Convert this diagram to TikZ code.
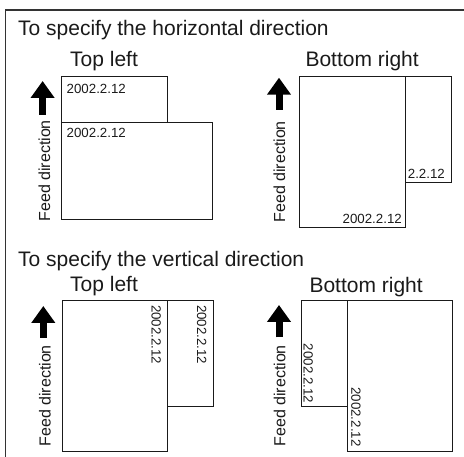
\documentclass[tikz,border=0pt]{standalone}
\usepackage{fontspec}
\setmainfont{Liberation Sans}
\usetikzlibrary{arrows.meta}
\definecolor{ink}{HTML}{1A1A1A}
\definecolor{framec}{HTML}{333333}
\begin{document}
\begin{tikzpicture}[x=1pt,y=1pt,
  heading/.style={inner sep=0pt,anchor=base west,text=ink,font=\fontsize{21}{25}\selectfont},
  datelbl/.style={inner sep=0pt,text=ink,font=\fontsize{13.3}{15}\selectfont},
  feedlbl/.style={inner sep=0pt,anchor=base west,rotate=90,text=ink,font=\fontsize{16}{19}\selectfont},
  sheet/.style={draw=ink,line width=0.9pt},
  feedarrow/.style={draw=black,line width=7pt,-{Triangle[width=23pt,length=17pt]}}]
\useasboundingbox (0,0) rectangle (464,-457);
% frame (top and left only)
\draw[framec,line width=1.3pt] (5.7,-457) -- (5.7,-10) -- (464,-10);

% ===== horizontal direction =====
\node[heading] (t1) at (18,-35.3) {To specify the horizontal direction};
\node[heading] (h1) at (70,-67) {Top left};
\node[heading] (h2) at (305.3,-67) {Bottom right};

% top left
\draw[sheet] (61.5,-76.7) rectangle (167.3,-122.3);
\draw[sheet] (61.5,-122.3) rectangle (212.3,-219);
\node[datelbl,anchor=base west] (d1) at (66.5,-93.3) {2002.2.12};
\node[datelbl,anchor=base west] (d2) at (66.5,-138) {2002.2.12};
\coordinate (a1s) at (42.6,-115);
\coordinate (a1e) at (42.6,-81);
\draw[feedarrow] (a1s) -- (a1e);
\node[feedlbl] (f1) at (50,-221.7) {Feed direction};

% bottom right
\draw[sheet] (299.7,-76) rectangle (405.3,-227.7);
\draw[sheet] (405.3,-76) rectangle (451,-182);
\node[datelbl,anchor=base west] (d3) at (407.7,-179) {2.2.12};
\node[datelbl,anchor=base east] (d4) at (402,-223.3) {2002.2.12};
\coordinate (a2s) at (279,-110);
\coordinate (a2e) at (279,-77.7);
\draw[feedarrow] (a2s) -- (a2e);
\node[feedlbl] (f2) at (285,-222.7) {Feed direction};

% ===== vertical direction =====
\node[heading] (t2) at (18,-267) {To specify the vertical direction};
\node[heading] (h3) at (70,-291.7) {Top left};
\node[heading] (h4) at (309.3,-292.7) {Bottom right};

% top left
\draw[sheet] (62.3,-300.7) rectangle (167.7,-451.7);
\draw[sheet] (167.7,-300.7) rectangle (213.3,-406);
\node[datelbl,rotate=-90,anchor=base west] (d5) at (151.5,-305) {2002.2.12};
\node[datelbl,rotate=-90,anchor=base west] (d6) at (197,-305) {2002.2.12};
\coordinate (a3s) at (43.3,-338);
\coordinate (a3e) at (43.3,-306);
\draw[feedarrow] (a3s) -- (a3e);
\node[feedlbl] (f3) at (50.7,-446.7) {Feed direction};

% bottom right
\draw[sheet] (301,-300.7) rectangle (347,-406);
\draw[sheet] (347,-300.7) rectangle (452.7,-451.7);
\node[datelbl,rotate=-90,anchor=base east] (d7) at (303.7,-403.3) {2002.2.12};
\node[datelbl,rotate=-90,anchor=base east] (d8) at (351.3,-446.7) {2002.2.12};
\coordinate (a4s) at (279,-337.3);
\coordinate (a4e) at (279,-305);
\draw[feedarrow] (a4s) -- (a4e);
\node[feedlbl] (f4) at (285.3,-446.7) {Feed direction};
\end{tikzpicture}
\end{document}
